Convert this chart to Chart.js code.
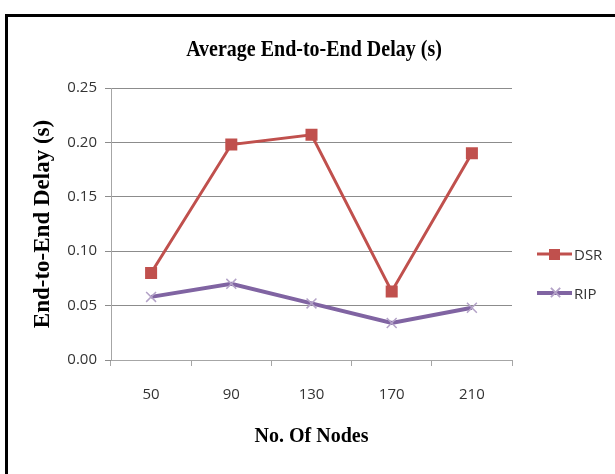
<!DOCTYPE html>
<html>
<head>
<meta charset="utf-8">
<script src="https://cdn.jsdelivr.net/npm/chart.js@4.4.1/dist/chart.umd.min.js"></script>
<style>
  html, body { margin: 0; padding: 0; background: #fff; }
  #wrap { position: relative; width: 615px; height: 474px; overflow: hidden; }
  #frame { position: absolute; left: 5px; top: 14px; width: 620px; height: 470px;
           border: 3px solid #000; box-sizing: border-box; pointer-events: none; }
  canvas { position: absolute; left: 0; top: 0; }
  #title { position: absolute; left: 114px; width: 400px; top: 36px; text-align: center;
           font: bold 20px 'Liberation Serif', 'Times New Roman', serif; color: #000;
           line-height: 24px; transform: scaleY(1.15); }
  .legend { position: absolute; left: 537px; font-family: 'Open Sans', sans-serif;
            font-size: 15px; color: #333; display: flex; align-items: center; }
  .legend .mark { position: relative; width: 35px; height: 14px; margin-right: 2px; }
  .legend .line { position: absolute; left: 0; right: 0; top: 50%; transform: translateY(-50%); }
  .legend .sq { position: absolute; left: 12px; top: 2px; width: 11px; height: 11px; background: #c0504d; }
  .legend .x { position: absolute; left: 11px; top: -4px; font-size: 18px; color: #b3a2c7; line-height: 20px; }
</style>
</head>
<body>
<div id="wrap">
  <canvas id="delayChart" width="615" height="474"></canvas>
  <div id="title">Average End-to-End Delay (s)</div>
  <div class="legend" style="top: 244px;">
    <div class="mark"><div class="line" style="height:3px;background:#c0504d"></div><div class="sq"></div></div>DSR
  </div>
  <div class="legend" style="top: 283px;">
    <div class="mark"><div class="line" style="height:4px;background:#8064a2"></div><div class="x">&#x2715;</div></div>RIP
  </div>
  <div id="frame"></div>
</div>
<script>
const nodes = ['50', '90', '130', '170', '210'];
const dsrDelay = [0.080, 0.198, 0.207, 0.063, 0.190];
const ripDelay = [0.058, 0.070, 0.052, 0.034, 0.048];

const serifBold = { family: "'Liberation Serif', 'Times New Roman', serif", weight: 'bold' };
const tickFont = { family: "'Open Sans', sans-serif", size: 15 };

// Delay line chart (title and legend are html above)
new Chart(document.getElementById('delayChart'), {
  type: 'line',
  data: {
    labels: nodes,
    datasets: [
      {
        label: 'DSR',
        data: dsrDelay,
        borderColor: '#c0504d',
        backgroundColor: '#c0504d',
        borderWidth: 3,
        pointStyle: 'rect',
        pointRadius: 8.5,
        pointBorderWidth: 0,
        tension: 0
      },
      {
        label: 'RIP',
        data: ripDelay,
        borderColor: '#8064a2',
        backgroundColor: '#8064a2',
        borderWidth: 4,
        pointStyle: 'crossRot',
        pointRadius: 7,
        pointBorderColor: '#b3a2c7',
        pointBorderWidth: 1.5,
        tension: 0
      }
    ]
  },
  options: {
    responsive: false,
    animation: false,
    layout: { padding: { top: 88, right: 103 } },
    plugins: {
      legend: { display: false },
      tooltip: { enabled: false },
      title: { display: false }
    },
    scales: {
      x: {
        offset: true,
        grid: { offset: true, drawOnChartArea: false, drawTicks: true, tickLength: 6, color: '#a6a6a6' },
        border: { color: '#a6a6a6' },
        ticks: { color: '#333', font: tickFont, padding: 20 },
        title: {
          display: true,
          text: 'No. Of Nodes',
          color: '#000',
          font: { ...serifBold, size: 20 },
          padding: { top: 0, bottom: 25 }
        },
        afterFit: s => { s.height = 114; }
      },
      y: {
        min: 0,
        max: 0.25,
        grid: { color: '#8c8c8c', tickLength: 6 },
        border: { color: '#a6a6a6' },
        ticks: {
          stepSize: 0.05,
          color: '#333',
          font: tickFont,
          padding: 8,
          callback: v => v.toFixed(2)
        },
        title: {
          display: true,
          text: 'End-to-End Delay (s)',
          color: '#000',
          font: { ...serifBold, size: 23 },
          padding: { top: 29, bottom: 0 }
        },
        afterFit: s => { s.width = 111; }
      }
    }
  }
});
</script>
</body>
</html>
